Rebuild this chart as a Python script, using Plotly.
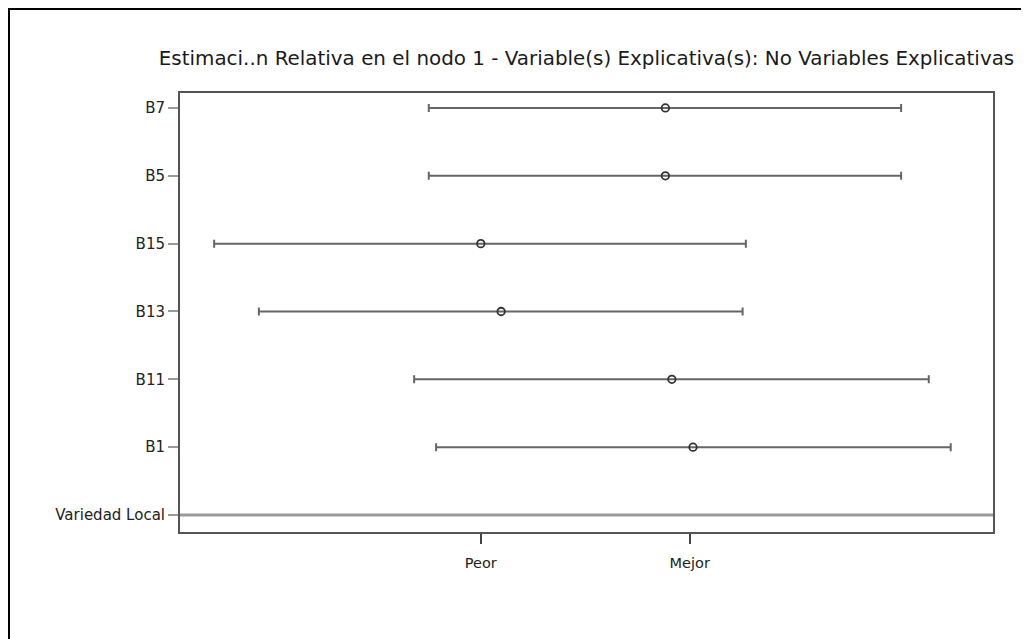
import plotly.graph_objects as go

categories = ["Variedad Local", "B1", "B11", "B13", "B15", "B5", "B7"]
est = [None, 6.31, 6.05, 3.95, 3.70, 5.97, 5.97]
lower = [None, 3.15, 2.88, 0.97, 0.42, 3.06, 3.06]
upper = [None, 9.48, 9.21, 6.92, 6.96, 8.87, 8.87]
x_tick_vals = [3.70, 6.27]
x_tick_text = ["Peor", "Mejor"]
x_range = [0, 10]
title = "Estimaci..n Relativa en el nodo 1 - Variable(s) Explicativa(s): No Variables Explicativas"

ypos = list(range(len(categories)))
bx, by, em, ep = [], [], [], []
for i, c in enumerate(categories):
    if est[i] is None:
        continue
    bx.append(est[i]); by.append(i)
    em.append(est[i] - lower[i]); ep.append(upper[i] - est[i])

# page has an 8px body margin; figure is sized to fit the window
W, H = 1021, 631
L, T, PW, PH = 172, 85, 813, 439

fig = go.Figure()
fig.add_trace(go.Scatter(x=x_range, y=[0, 0], mode="lines",
                         line=dict(color="#9a9a9a", width=3), hoverinfo="skip", showlegend=False))
fig.add_trace(go.Scatter(
    x=bx, y=by, mode="markers",
    marker=dict(symbol="circle-open", size=7.5, color="#333333", line=dict(width=1.8, color="#333333")),
    error_x=dict(type="data", symmetric=False, array=ep, arrayminus=em,
                 color="#666666", thickness=2, width=4),
    showlegend=False))

FONT = "DejaVu Sans, Liberation Sans, Arial"
fig.update_layout(
    width=W, height=H,
    margin=dict(l=L, r=W - L - PW, t=T, b=H - T - PH, pad=0),
    paper_bgcolor="white", plot_bgcolor="white",
    title=dict(text=title, x=(L + PW / 2) / W, xanchor="center", y=1 - 50 / H, yanchor="middle",
               font=dict(family=FONT, size=19.9, color="#1a1a1a")),
    font=dict(family=FONT, color="#222222"),
    xaxis=dict(range=x_range, tickvals=x_tick_vals, ticktext=x_tick_text,
               showgrid=False, zeroline=False, showline=True, mirror=True,
               linecolor="#555555", linewidth=2, ticks="outside", ticklen=10,
               tickcolor="#444444", tickwidth=1.5, tickfont=dict(size=14.5),
               ticklabelstandoff=7, fixedrange=True),
    yaxis=dict(range=[-0.25, 6.22], tickvals=ypos, ticktext=categories,
               showgrid=False, zeroline=False, showline=True, mirror=True,
               linecolor="#555555", linewidth=2, ticks="outside", ticklen=10,
               tickcolor="#9a9a9a", tickwidth=2, tickfont=dict(size=15), fixedrange=True),
    shapes=[dict(type="rect", xref="paper", yref="paper",
                 x0=(1 - L) / PW, x1=(W + 20 - L) / PW,
                 y0=(T + PH - (H + 20)) / PH, y1=(T + PH - 1) / PH,
                 line=dict(color="black", width=2), fillcolor="rgba(0,0,0,0)", layer="below")],
)

fig.write_html("out.html")
